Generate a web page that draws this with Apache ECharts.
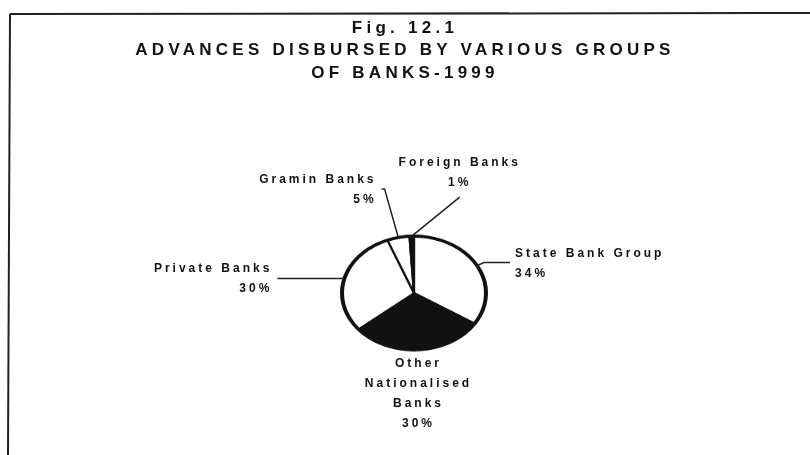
<!DOCTYPE html>
<html>
<head>
<meta charset="utf-8">
<script src="https://cdn.jsdelivr.net/npm/echarts@6/dist/echarts.min.js"></script>
<style>
  html, body { margin: 0; padding: 0; background: #fff; }
  #stage { position: relative; width: 810px; height: 455px; overflow: hidden; }
  #pie, #chart { position: absolute; left: 0; top: 0; width: 810px; height: 455px; }
  /* the pie is drawn as a tilted disc */
  #pie { transform-origin: 414px 293px; transform: scaleY(0.79); }
  #chart text { letter-spacing: 0.25em; }
</style>
</head>
<body>
<div id="stage">
  <div id="pie"></div>
  <div id="chart"></div>
</div>
<script>
// Share of advances disbursed, 1999 (per cent), clockwise from 12 o'clock
const groups = ['State Bank Group', 'Other Nationalised Banks', 'Private Banks', 'Gramin Banks', 'Foreign Banks'];
const shares = [34, 30, 30, 5, 1];
const fills = ['#ffffff', '#111111', '#ffffff', '#ffffff', '#111111'];

const CX = 414, CY = 293, R = 72, TILT = 0.79;
const FONT = "'Liberation Sans', Arial, Helvetica, sans-serif";

// leader line lengths and label placement per group
const leader = {
  'State Bank Group':         { length: 8,  length2: 26 },
  'Other Nationalised Banks': { length: 0,  length2: 0, mode: 'below', gap: 3 },
  'Private Banks':            { length: 2,  length2: 65 },
  'Gramin Banks':             { length: 63, length2: 3 },
  'Foreign Banks':            { length: 0,  length2: 0, mode: 'above', dx: 48, dy: -39, gap: 5 }
};

// --- slices (drawn in a vertically squashed layer) ---
const pieChart = echarts.init(document.getElementById('pie'), null, { renderer: 'canvas' });
pieChart.setOption({
  animation: false,
  series: [
    {
      type: 'pie',
      center: [CX, CY],
      radius: [0, R],
      startAngle: 90,
      clockwise: true,
      silent: true,
      label: { show: false },
      labelLine: { show: false },
      itemStyle: { borderColor: '#111', borderWidth: 2.2 },
      data: groups.map((g, i) => ({ name: g, value: shares[i], itemStyle: { color: fills[i] } }))
    },
    {
      // heavy outline of the disc
      type: 'pie',
      center: [CX, CY],
      radius: [R - 2, R + 2],
      silent: true,
      label: { show: false },
      labelLine: { show: false },
      itemStyle: { color: '#111' },
      data: [{ name: 'rim', value: 1 }]
    }
  ]
});

// --- title, frame and labels ---
const chart = echarts.init(document.getElementById('chart'), null, { renderer: 'svg' });
const squash = p => [p[0], CY + (p[1] - CY) * TILT];

chart.setOption({
  animation: false,
  title: {
    text: 'Fig. 12.1\nADVANCES DISBURSED BY VARIOUS GROUPS\nOF BANKS-1999',
    left: 'center',
    top: 16,
    padding: 0,
    textStyle: { fontFamily: FONT, fontSize: 17, fontWeight: 'bold', color: '#111', lineHeight: 22.5 }
  },
  graphic: [
    { type: 'line', silent: true, shape: { x1: 10, y1: 14, x2: 810, y2: 13 }, style: { stroke: '#222', lineWidth: 2 } },
    { type: 'line', silent: true, shape: { x1: 10, y1: 14, x2: 8, y2: 455 }, style: { stroke: '#222', lineWidth: 2 } }
  ],
  series: [
    {
      type: 'pie',
      center: [CX, CY],
      radius: [0, R],
      startAngle: 90,
      clockwise: true,
      silent: true,
      avoidLabelOverlap: false,
      itemStyle: { color: 'rgba(0,0,0,0)', borderWidth: 0 },
      label: {
        show: true,
        position: 'outside',
        fontFamily: FONT,
        fontSize: 12,
        fontWeight: 'bold',
        color: '#111',
        lineHeight: 20,
        formatter: p => (p.name === 'Other Nationalised Banks' ? p.name.replace(/ /g, '\n') : p.name) + '\n' + p.value + '%'
      },
      labelLine: { show: true, lineStyle: { color: '#222', width: 1.5 } },
      labelLayout: function (params) {
        const name = groups[params.dataIndex];
        const cfg = leader[name];
        const pts = (params.labelLinePoints || []).map(squash);
        const start = pts[0];
        if (cfg.mode === 'below') {
          return { x: start[0], y: start[1] + cfg.gap, align: 'center', verticalAlign: 'top', labelLinePoints: [start, start] };
        }
        if (cfg.mode === 'above') {
          const end = [start[0] + cfg.dx, start[1] + cfg.dy];
          return { x: end[0], y: end[1] - cfg.gap, align: 'center', verticalAlign: 'bottom', labelLinePoints: [start, end] };
        }
        const end = pts[pts.length - 1];
        const right = end[0] >= start[0];
        return { x: end[0] + (right ? 5 : -5), y: end[1], align: right ? 'left' : 'right', verticalAlign: 'middle', labelLinePoints: pts };
      },
      data: groups.map((g, i) => ({
        name: g,
        value: shares[i],
        labelLine: { length: leader[g].length, length2: leader[g].length2 }
      }))
    }
  ]
});
</script>
</body>
</html>
